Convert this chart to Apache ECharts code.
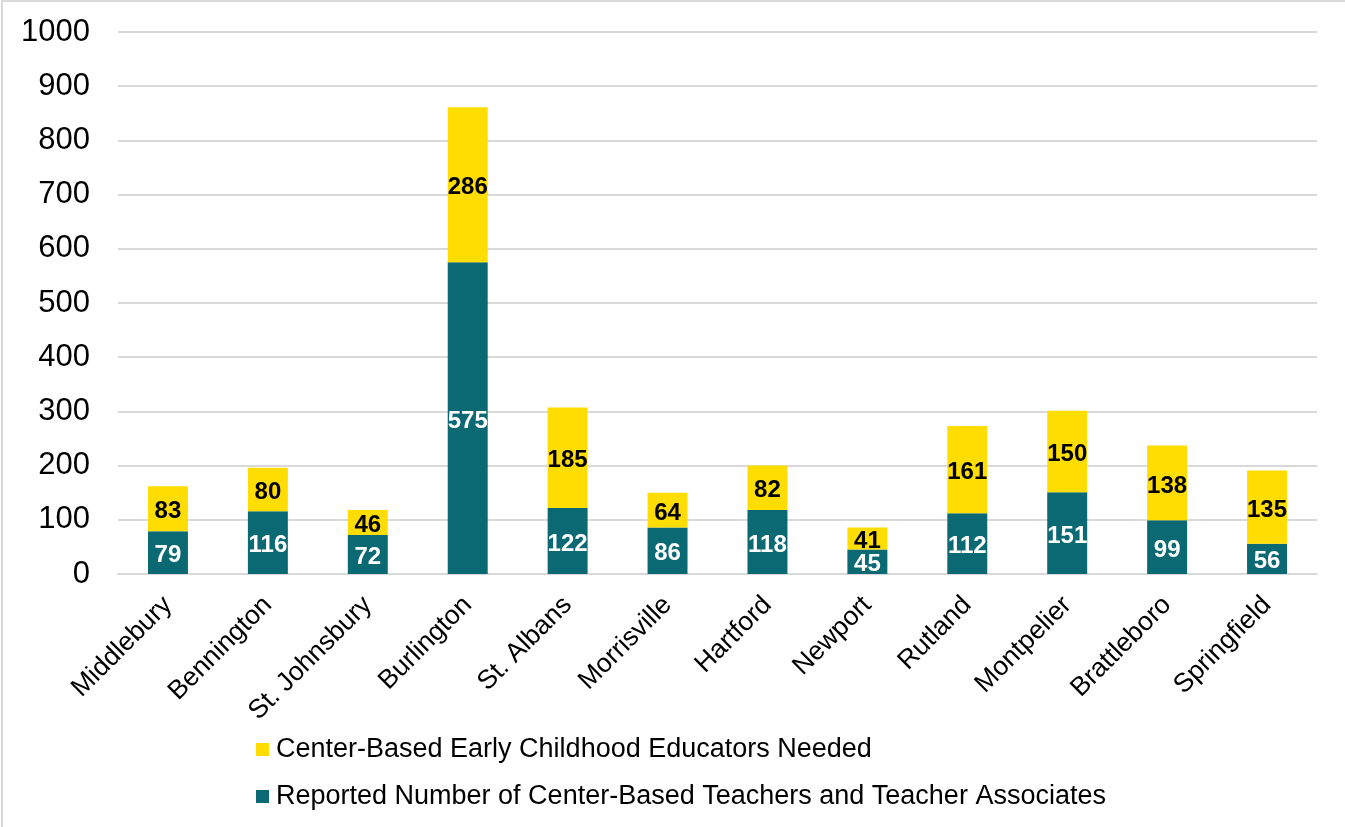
<!DOCTYPE html>
<html>
<head>
<meta charset="utf-8">
<script src="https://cdn.jsdelivr.net/npm/echarts@6/dist/echarts.min.js"></script>
<style>html,body{margin:0;padding:0;background:#fff;}#c{width:1345px;height:827px;}</style>
</head>
<body>
<div id="c"></div>
<script>
const categories = ['Middlebury','Bennington','St. Johnsbury','Burlington','St. Albans','Morrisville','Hartford','Newport','Rutland','Montpelier','Brattleboro','Springfield'];
const reported = [79,116,72,575,122,86,118,45,112,151,99,56];
const needed = [83,80,46,286,185,64,82,41,161,150,138,135];
const yTicks = [0,100,200,300,400,500,600,700,800,900,1000];
const seriesNames = ['Reported Number of Center-Based Teachers and Teacher Associates','Center-Based Early Childhood Educators Needed'];

const FONT = 'Liberation Sans, Arial, sans-serif';
const chart = echarts.init(document.getElementById('c'), null, {renderer:'canvas'});
chart.setOption({
  animation:false,
  backgroundColor:'#fff',
  graphic:[{type:'rect',shape:{x:2,y:1,width:1400,height:900},style:{fill:'none',stroke:'#d9d9d9',lineWidth:2},silent:true}],
  grid:{left:118,right:28,top:32,bottom:253},
  legend:{
    orient:'vertical',left:256,top:736,padding:0,itemGap:20,itemWidth:13,itemHeight:13,
    icon:'rect',
    data:[seriesNames[1],seriesNames[0]],
    textStyle:{fontFamily:FONT,fontSize:27,color:'#000',padding:[0,0,0,2]}
  },
  xAxis:{
    type:'category',data:categories,
    axisLine:{lineStyle:{color:'#d9d9d9',width:2}},
    axisTick:{show:false},
    axisLabel:{rotate:45,interval:0,fontFamily:FONT,fontSize:26.5,color:'#000',margin:27}
  },
  yAxis:{
    type:'value',min:0,max:1000,interval:100,
    axisLine:{show:false},axisTick:{show:false},
    splitLine:{lineStyle:{color:'#d9d9d9',width:2}},
    axisLabel:{fontFamily:FONT,fontSize:31,color:'#000',margin:28,
      formatter:v=>yTicks.includes(v)?String(v):''}
  },
  series:[
    {name:seriesNames[0],type:'bar',stack:'a',data:reported,barWidth:'40%',
      itemStyle:{color:'#0b6974'},
      label:{show:true,position:'inside',offset:[0,3],color:'#fff',fontWeight:'bold',fontFamily:FONT,fontSize:24}},
    {name:seriesNames[1],type:'bar',stack:'a',data:needed,barWidth:'40%',
      itemStyle:{color:'#ffdd00'},
      label:{show:true,position:'inside',offset:[0,3],color:'#000',fontWeight:'bold',fontFamily:FONT,fontSize:24}}
  ]
});
</script>
</body>
</html>
